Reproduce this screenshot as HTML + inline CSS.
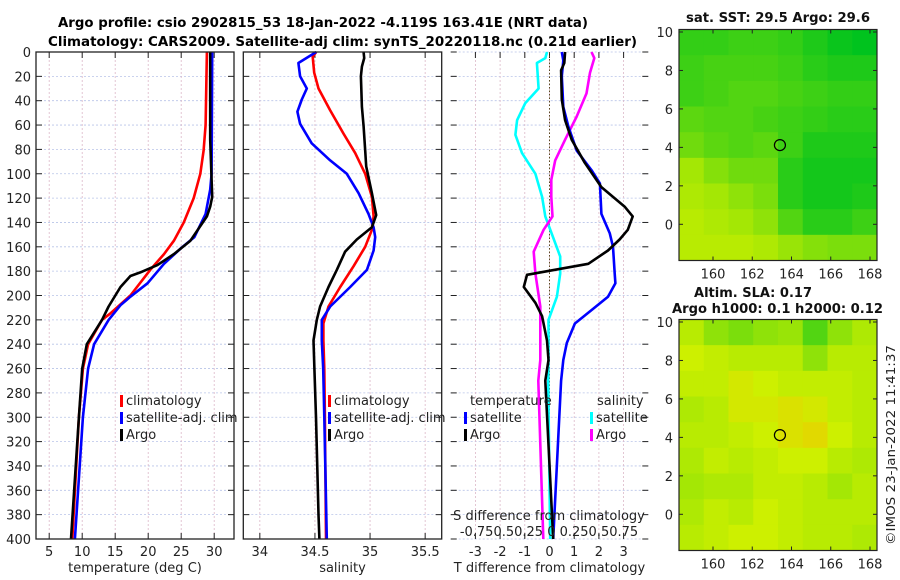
<!DOCTYPE html>
<html><head><meta charset="utf-8"><style>
html,body{margin:0;padding:0;background:#fff;}
svg{display:block;font-family:"DejaVu Sans","Liberation Sans",sans-serif;}
</style></head><body>
<svg id="chart" width="900" height="580" viewBox="0 0 900 580" xmlns="http://www.w3.org/2000/svg">
<text x="58" y="27" font-weight="bold" font-size="13" textLength="530" lengthAdjust="spacingAndGlyphs">Argo profile: csio 2902815_53 18-Jan-2022 -4.119S 163.41E (NRT data)</text>
<text x="48" y="46" font-weight="bold" font-size="13" textLength="589" lengthAdjust="spacingAndGlyphs">Climatology: CARS2009. Satellite-adj clim: synTS_20220118.nc (0.21d earlier)</text>
<g id="g"></g>
<text transform="translate(895,545) rotate(-90)" font-size="12.5" fill="#222" textLength="200" lengthAdjust="spacingAndGlyphs">©IMOS 23-Jan-2022 11:41:37</text>
</svg>
<script>
// ---------- data ----------
const depthTicks = [0,20,40,60,80,100,120,140,160,180,200,220,240,260,280,300,320,340,360,380,400];
const tempTicks = [5,10,15,20,25,30];
const salTicks = [34,34.5,35,35.5];
const diffTicks = [-3,-2,-1,0,1,2,3];
// temperature panel
const tClimDepth = [0,60,81,100,120,140,155,166,179,200,215,220,240,260,300,400];
const tClimVal   = [28.9,28.7,28.4,27.9,26.9,25.4,23.9,22.4,20.3,17.3,14.2,13.0,10.9,10.1,9.5,8.5];
const tSatDepth = [0,100,113,133,152,161,174,190,201,208,220,240,260,300,400];
const tSatVal   = [29.7,29.6,29.4,28.7,27.0,25.0,22.4,19.9,17.3,15.8,14.0,11.8,10.9,10.1,8.9];
const tArgoDepth = [0,72,119,127,135,155,166,175,181,184,193,209,220,240,260,300,400];
const tArgoVal   = [29.4,29.4,29.7,29.4,28.9,26.4,23.9,21.4,18.8,17.3,15.8,14.0,13.0,10.7,10.0,9.5,8.3];
// salinity panel
const sClimDepth = [0,4,17,30,48,67,83,100,119,135,146,160,176,193,209,223,237,260,300,400];
const sClimVal   = [34.511,34.480,34.493,34.532,34.638,34.759,34.865,34.956,35.017,35.032,35.017,34.956,34.850,34.729,34.623,34.577,34.577,34.585,34.590,34.600];
const sSatDepth = [0,9,20,30,39,49,59,75,89,100,116,133,144,152,163,179,193,209,220,237,260,300,400];
const sSatVal   = [34.511,34.350,34.365,34.426,34.381,34.341,34.365,34.471,34.638,34.789,34.896,34.986,35.032,35.047,35.032,34.971,34.820,34.638,34.562,34.562,34.575,34.585,34.608];
const sArgoDepth = [0,5,12,20,45,61,81,94,116,134,144,154,164,179,193,209,220,237,260,300,380,400];
const sArgoVal   = [34.941,34.947,34.926,34.917,34.926,34.941,34.956,34.965,35.017,35.056,35.017,34.880,34.774,34.698,34.623,34.547,34.517,34.487,34.495,34.510,34.532,34.540];
// difference panel (T diff in deg C, S diff in psu)
const dTSatDepth = [0,7,20,45,61,81,97,108,133,149,160,182,190,201,212,223,239,253,270,400];
const dTSatVal   = [0.50,0.56,0.50,0.56,0.76,1.10,1.70,2.04,2.10,2.44,2.57,2.64,2.67,2.37,1.70,1.03,0.70,0.56,0.47,0.15];
const dTArgoDepth = [0,9,15,39,56,72,91,111,127,135,146,154,163,174,183,193,206,217,237,253,270,400];
const dTArgoVal   = [0.63,0.60,0.47,0.50,0.63,0.90,1.43,2.10,3.04,3.37,3.17,2.84,2.37,1.57,-0.91,-1.04,-0.57,-0.30,-0.10,-0.04,-0.17,0.15];
const dSSatDepth = [0,5,9,30,42,56,68,83,100,119,135,146,168,182,201,220,253,270,400];
const dSSatVal   = [-0.025,-0.043,-0.128,-0.110,-0.245,-0.328,-0.345,-0.278,-0.143,-0.075,-0.043,0.008,0.108,0.108,0.075,-0.010,-0.010,-0.013,0.007];
const dSArgoDepth = [0,5,17,34,53,72,89,105,119,135,146,164,182,209,253,270,400];
const dSArgoVal   = [0.425,0.453,0.410,0.375,0.275,0.158,0.058,0.018,0.018,0.030,-0.060,-0.160,-0.143,-0.093,-0.093,-0.113,-0.063];
const sDiffTickLabel = "-0.750.50.25 0 0.250.50.75";
// maps
const mapLonTicks = [160,162,164,166,168];
const mapLatTicks = [0,2,4,6,8,10];
const sstGrid = [
 [0.25,0.25,0.3,0.3,0.25,0.15,0.05,0.0],
 [0.3,0.35,0.35,0.35,0.3,0.2,0.15,0.15],
 [0.3,0.35,0.4,0.4,0.35,0.3,0.25,0.25],
 [0.45,0.4,0.4,0.35,0.3,0.25,0.2,0.2],
 [0.55,0.45,0.4,0.45,0.3,0.15,0.15,0.15],
 [0.8,0.65,0.55,0.55,0.2,0.1,0.1,0.1],
 [0.85,0.8,0.7,0.6,0.2,0.1,0.1,0.15],
 [0.9,0.85,0.8,0.7,0.4,0.2,0.2,0.3],
 [0.9,0.9,0.9,0.85,0.75,0.65,0.6,0.6]];
const slaGrid = [
 [0.9,0.7,0.6,0.7,0.75,0.4,0.7,0.85],
 [1.0,0.95,0.9,0.9,0.9,0.7,0.9,0.9],
 [0.95,0.95,1.05,1.0,0.95,0.95,0.95,0.9],
 [0.85,0.9,1.05,1.05,1.1,1.05,0.95,0.9],
 [0.9,0.9,0.95,1.0,1.1,1.15,1.0,0.9],
 [0.85,0.95,0.9,0.95,1.0,1.0,0.9,0.85],
 [0.8,0.85,0.85,0.95,0.95,0.9,0.8,0.9],
 [0.85,0.95,0.9,1.0,0.95,0.9,0.9,0.9],
 [0.9,0.95,1.0,1.0,0.95,0.9,0.9,0.85]];
const argoLon = 163.41, argoLat = 4.119;

// ---------- drawing ----------
const NS="http://www.w3.org/2000/svg";
const G=document.getElementById('g');
function mk(tag,attrs,parent){const e=document.createElementNS(NS,tag);for(const k in attrs)e.setAttribute(k,attrs[k]);(parent||G).appendChild(e);return e;}
const top0=52,bot0=539;
const yD=d=>top0+(bot0-top0)*d/400;

function panel(name,x0,x1,dmin,dmax,xticks,labelFn,showY,xlabel){
  const xs=v=>x0+(x1-x0)*(v-dmin)/(dmax-dmin);
  const g=mk('g',{});
  
  
  depthTicks.forEach(d=>{
    const l=mk('line',{x1:x0,x2:x1,y1:yD(d),y2:yD(d),stroke:'#b8c4e8','stroke-width':0.8,'stroke-dasharray':'2,2'},g);
    
    
    mk('line',{x1:x0,x2:x0+6,y1:yD(d),y2:yD(d),stroke:'#222'},g);
    mk('line',{x1:x1-6,x2:x1,y1:yD(d),y2:yD(d),stroke:'#222'},g);
    if(showY){const t=mk('text',{x:x0-5,y:yD(d)+5,'text-anchor':'end','font-size':13,fill:'#222'},g);t.textContent=d;
      
      }
  });
  xticks.forEach(v=>{
    const l=mk('line',{x1:xs(v),x2:xs(v),y1:top0,y2:bot0,stroke:'#dcb8c8','stroke-width':0.8,'stroke-dasharray':'2,2'},g);
    
    
    mk('line',{x1:xs(v),x2:xs(v),y1:top0,y2:top0+6,stroke:'#222'},g);
    mk('line',{x1:xs(v),x2:xs(v),y1:bot0-6,y2:bot0,stroke:'#222'},g);
    const t=mk('text',{x:xs(v),y:bot0+17,'text-anchor':'middle','font-size':13,fill:'#222'},g);t.textContent=labelFn(v);
    
    
  });
  const xl=mk('text',{x:(x0+x1)/2,y:572,'text-anchor':'middle','font-size':13,fill:'#222'},g);xl.textContent=xlabel;
  
  
  return {xs,g,x0,x1};
}
function line(p,name,depths,vals,color,scale){
  const pts=depths.map((d,i)=>p.xs(vals[i]*(scale||1)).toFixed(1)+','+yD(d).toFixed(1)).join(' ');
  const pl=mk('polyline',{points:pts,fill:'none',stroke:color,'stroke-width':2.6,'stroke-linejoin':'round'},p.g);
  
  
}
function frame(p){const r=mk('rect',{x:p.x0,y:top0,width:p.x1-p.x0,height:bot0-top0,fill:'none',stroke:'#222','stroke-width':1.3},p.g);
  
  }
function legend(p,x,y,items){
  items.forEach((it,i)=>{
    const r=mk('rect',{x:x,y:y+i*17-10,width:3,height:12,fill:it[1]},p.g);
    
    
    const t=mk('text',{x:x+6,y:y+i*17,'font-size':13,fill:'#222'},p.g);t.textContent=it[0];
    
    
  });
}

const p1=panel('temperature',36,234,3,33,tempTicks,v=>v,true,'temperature (deg C)');
line(p1,'temp-climatology-line',tClimDepth,tClimVal,'#ff0000');
line(p1,'temp-satellite-line',tSatDepth,tSatVal,'#0000ff');
line(p1,'temp-argo-line',tArgoDepth,tArgoVal,'#000000');
legend(p1,120,405,[['climatology','#ff0000'],['satellite-adj. clim','#0000ff'],['Argo','#000']]);
frame(p1);

const p2=panel('salinity',243.3,441.7,33.85,35.65,salTicks,v=>v,false,'salinity');
line(p2,'sal-climatology-line',sClimDepth,sClimVal,'#ff0000');
line(p2,'sal-satellite-line',sSatDepth,sSatVal,'#0000ff');
line(p2,'sal-argo-line',sArgoDepth,sArgoVal,'#000000');
legend(p2,328,405,[['climatology','#ff0000'],['satellite-adj. clim','#0000ff'],['Argo','#000']]);
frame(p2);

const p3=panel('difference',450.7,648.3,-4,4,diffTicks,v=>v,false,'T difference from climatology');
const zl=mk('line',{x1:p3.xs(0),x2:p3.xs(0),y1:top0,y2:bot0,stroke:'#5a4a20','stroke-width':1,'stroke-dasharray':'1.5,2'},p3.g);


line(p3,'sdiff-satellite-line',dSSatDepth,dSSatVal,'#00ffff',4);
line(p3,'sdiff-argo-line',dSArgoDepth,dSArgoVal,'#ff00ff',4);
line(p3,'tdiff-satellite-line',dTSatDepth,dTSatVal,'#0000ff');
line(p3,'tdiff-argo-line',dTArgoDepth,dTArgoVal,'#000000');
{const t=mk('text',{x:470,y:405,'font-size':13,fill:'#222'},p3.g);t.textContent='temperature';
 
 
 const s=mk('text',{x:597,y:405,'font-size':13,fill:'#222'},p3.g);s.textContent='salinity';
 
 }
legend(p3,464,422,[['satellite','#0000ff'],['Argo','#000']]);
legend(p3,590,422,[['satellite','#00ffff'],['Argo','#ff00ff']]);
{const t=mk('text',{x:549,y:520,'text-anchor':'middle','font-size':13,fill:'#222'},p3.g);t.textContent='S difference from climatology';
 
 
 const u=mk('text',{x:549,y:536,'text-anchor':'middle','font-size':13,fill:'#222'},p3.g);u.textContent=sDiffTickLabel;
 
 }

function colorOf(v){
  let r,g,b;
  if(v<=1){r=205*v;g=195+45*v;b=30*(1-v);}
  else{const w=Math.min(v-1,0.3)/0.3;r=205+40*w;g=240-45*w;b=0;}
  return `rgb(${r|0},${g|0},${b|0})`;
}
function map(name,x0,x1,y0,y1,lat10y,lat0y,grid,titles){
  const g=mk('g',{});
  
  
  const lon=v=>713+(v-160)*(870-713)/8;
  const lat=v=>lat0y+(lat10y-lat0y)*v/10;
  const rows=grid.length,cols=grid[0].length;
  const cw=(x1-x0)/cols,ch=(y1-y0)/rows;
  grid.forEach((row,i)=>row.forEach((v,j)=>{
    const c=mk('rect',{x:x0+j*cw,y:y0+i*ch,width:cw+0.5,height:ch+0.5,fill:colorOf(v)},g);
    
    
  }));
  const fr=mk('rect',{x:x0,y:y0,width:x1-x0,height:y1-y0,fill:'none',stroke:'#222','stroke-width':1.2},g);
  
  
  mapLatTicks.forEach(v=>{
    mk('line',{x1:x0,x2:x0+4,y1:lat(v),y2:lat(v),stroke:'#222'},g);
    mk('line',{x1:x1-4,x2:x1,y1:lat(v),y2:lat(v),stroke:'#222'},g);
    const t=mk('text',{x:x0-6,y:lat(v)+5,'text-anchor':'end','font-size':13,fill:'#222'},g);t.textContent=v;
    
    
  });
  mapLonTicks.forEach(v=>{
    mk('line',{x1:lon(v),x2:lon(v),y1:y1-4,y2:y1,stroke:'#222'},g);
    mk('line',{x1:lon(v),x2:lon(v),y1:y0,y2:y0+4,stroke:'#222'},g);
    const t=mk('text',{x:lon(v),y:y1+18,'text-anchor':'middle','font-size':13,fill:'#222'},g);t.textContent=v;
    
    
  });
  const c=mk('circle',{cx:lon(argoLon),cy:lat(argoLat),r:5.5,fill:'none',stroke:'#000','stroke-width':1.2},g);
  
  
  titles.forEach(t=>{
    const e=mk('text',{x:t[1],y:t[2],'font-size':13,'font-weight':'bold',fill:'#111',textLength:t[3],lengthAdjust:'spacingAndGlyphs'},g);e.textContent=t[0];
    
    
  });
}
map('sst-map',679,877,29.5,260.5,32,224.3,sstGrid,[['sat. SST: 29.5 Argo: 29.6',686,22,184]]);
map('sla-map',679,877,319.5,550.5,322,514.3,slaGrid,[['Altim. SLA: 0.17',694,297,118],['Argo h1000: 0.1 h2000: 0.12',672,313,211]]);
</script>
</body></html>
